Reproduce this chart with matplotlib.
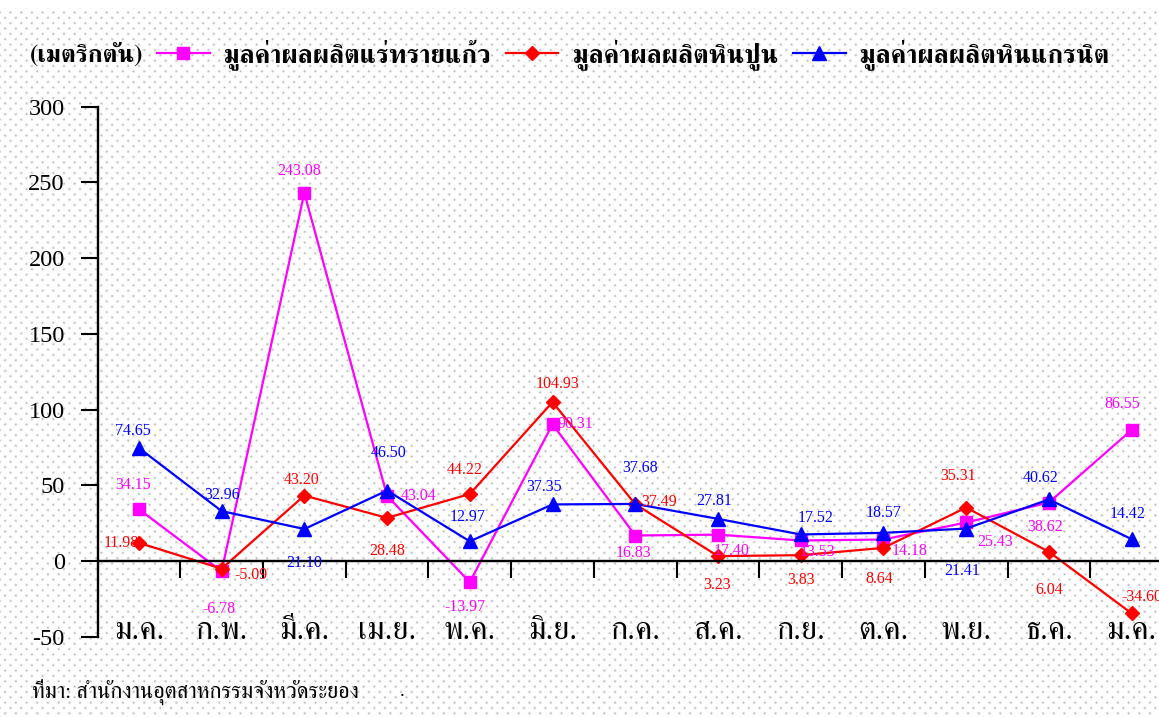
import numpy as np
import matplotlib
matplotlib.use('Agg')
import matplotlib.pyplot as plt
from matplotlib import font_manager
from matplotlib.ft2font import FT2Font

# data
months = ['ม.ค.', 'ก.พ.', 'มี.ค.', 'เม.ย.', 'พ.ค.', 'มิ.ย.', 'ก.ค.',
          'ส.ค.', 'ก.ย.', 'ต.ค.', 'พ.ย.', 'ธ.ค.', 'ม.ค.']
glass_sand = [34.15, -6.78, 243.08, 43.04, -13.97, 90.31, 16.83,
              17.40, 13.53, 14.18, 25.43, 38.62, 86.55]
limestone = [11.98, -5.09, 43.20, 28.48, 44.22, 104.93, 37.49,
             3.23, 3.83, 8.64, 35.31, 6.04, -34.60]
granite = [74.65, 32.96, 21.10, 46.50, 12.97, 37.35, 37.68,
           27.81, 17.52, 18.57, 21.41, 40.62, 14.42]
series_names = ['มูลค่าผลผลิตแร่ทรายแก้ว', 'มูลค่าผลผลิตหินปูน', 'มูลค่าผลผลิตหินแกรนิต']
unit_text = '(เมตริกตัน)'
source_text = 'ที่มา: สำนักงานอุตสาหกรรมจังหวัดระยอง'

# label offsets (pixels, x right / y up) for each value label
glass_offs = [(-6, 24), (-3, -38), (-5, 22), (32, 0), (-5, -25), (23, 0), (-2, -17),
              (14, -16), (17, -12), (26, -11), (29, -20), (-4, -24), (-9, 26)]
lime_offs = [(-18, 0), (29, -6), (-3, 16), (0, -33), (-5, 24), (5, 18), (24, 2),
             (-1, -29), (0, -25), (-4, -31), (-8, 32), (0, -38), (10, 16)]
granite_offs = [(-6, 17), (0, 16), (0, -34), (2, 38), (-2, 24), (-8, 17), (5, 36),
                (-4, 18), (15, 16), (0, 20), (-4, -42), (-8, 21), (-4, 25)]


def find_thai_font():
    names = []
    for f in font_manager.fontManager.ttflist:
        try:
            if 0x0E01 in FT2Font(f.fname).get_charmap():
                names.append(f.name)
        except Exception:
            continue
    for pref in ('Serif', 'Looped', ''):
        for n in names:
            if pref in n:
                return n
    return None


plt.rcParams['axes.unicode_minus'] = False
thai = find_thai_font()
THAI = [thai, 'Liberation Serif'] if thai else ['Liberation Serif', 'DejaVu Sans']
NUM = ['Liberation Serif', 'DejaVu Serif']

W, H = 1159, 717
fig = plt.figure(figsize=(W / 100, H / 100), dpi=100)
fig.patch.set_facecolor('white')

# dotted background texture
yy, xx = np.mgrid[0:H, 0:W].astype(float)
p = 10.7
u = (xx - 10) / p
v = (yy - 12) / p
d1 = np.hypot((u - np.round(u)) * p, (v - np.round(v)) * p)
d2 = np.hypot((u - 0.5 - np.round(u - 0.5)) * p, (v - 0.5 - np.round(v - 0.5)) * p)
d = np.minimum(d1, d2)
g = 1 - 0.28 * np.exp(-(d / 1.1) ** 2)
g[:8, :] = 1
bg = np.dstack([g, g, g])
fig.figimage(bg, xo=0, yo=0, zorder=-1, origin='upper')

ax = fig.add_axes([97.5 / W, 80.3 / H, (1173 - 97.5) / W, 530 / H])
ax.set_facecolor('none')

x = np.arange(len(months))
styles = [
    (glass_sand, glass_offs, '#FF00FF', 's', 8.5),
    (limestone, lime_offs, '#FF0000', 'D', 7.5),
    (granite, granite_offs, '#0000FF', '^', 10),
]
handles = []
for (vals, offs, color, mk, ms), name in zip(styles, series_names):
    ln, = ax.plot(x, vals, color=color, lw=1.6, marker=mk, ms=ms,
                  mec=color, mfc=color, label=name, clip_on=False)
    handles.append(ln)
for vals, offs, color, mk, ms in styles:
    for i, val in enumerate(vals):
        ax.annotate(f'{val:.2f}', (i, val), xytext=offs[i], textcoords='offset pixels',
                    ha='center', va='center', color=color, fontsize=11.5, family=NUM)

ax.set_xlim(-0.5, 12.5)
ax.set_ylim(-50, 300)
ax.set_yticks(np.arange(-50, 301, 50))
ax.spines['top'].set_visible(False)
ax.spines['right'].set_visible(False)
ax.spines['bottom'].set_position(('data', 0))
ax.spines['left'].set_linewidth(1.7)
ax.spines['bottom'].set_linewidth(1.7)

ax.set_xticks(np.arange(0.5, 12.6, 1))
ax.set_xticklabels([])
ax.set_xticks(x, minor=True)
ax.set_xticklabels(months, minor=True, family=THAI, fontsize=23)
ax.tick_params(axis='x', which='major', direction='out', length=12, width=1.5)
ax.tick_params(axis='x', which='minor', length=0, pad=40)
ax.tick_params(axis='y', direction='out', length=12.5, width=1.5, pad=11, labelsize=17.5)
for lbl in ax.get_yticklabels():
    lbl.set_family(NUM)

fig.text(30 / W, 1 - 55 / H, unit_text, family=THAI, fontsize=18, fontweight='bold',
         va='center', ha='left')
fig.legend(handles=handles, loc='center left', bbox_to_anchor=(157 / W, 1 - 55 / H),
           ncol=3, frameon=False, borderpad=0, borderaxespad=0, handlelength=2.0,
           handletextpad=0.55, columnspacing=0.55,
           prop={'family': THAI, 'size': 19, 'weight': 'bold'})

fig.text(32 / W, 1 - 692 / H, source_text, family=THAI, fontsize=16, va='center', ha='left')
fig.text(400 / W, 1 - 692 / H, '.', family=NUM, fontsize=14, va='center', ha='left')

fig.savefig('out.png', dpi=100)
